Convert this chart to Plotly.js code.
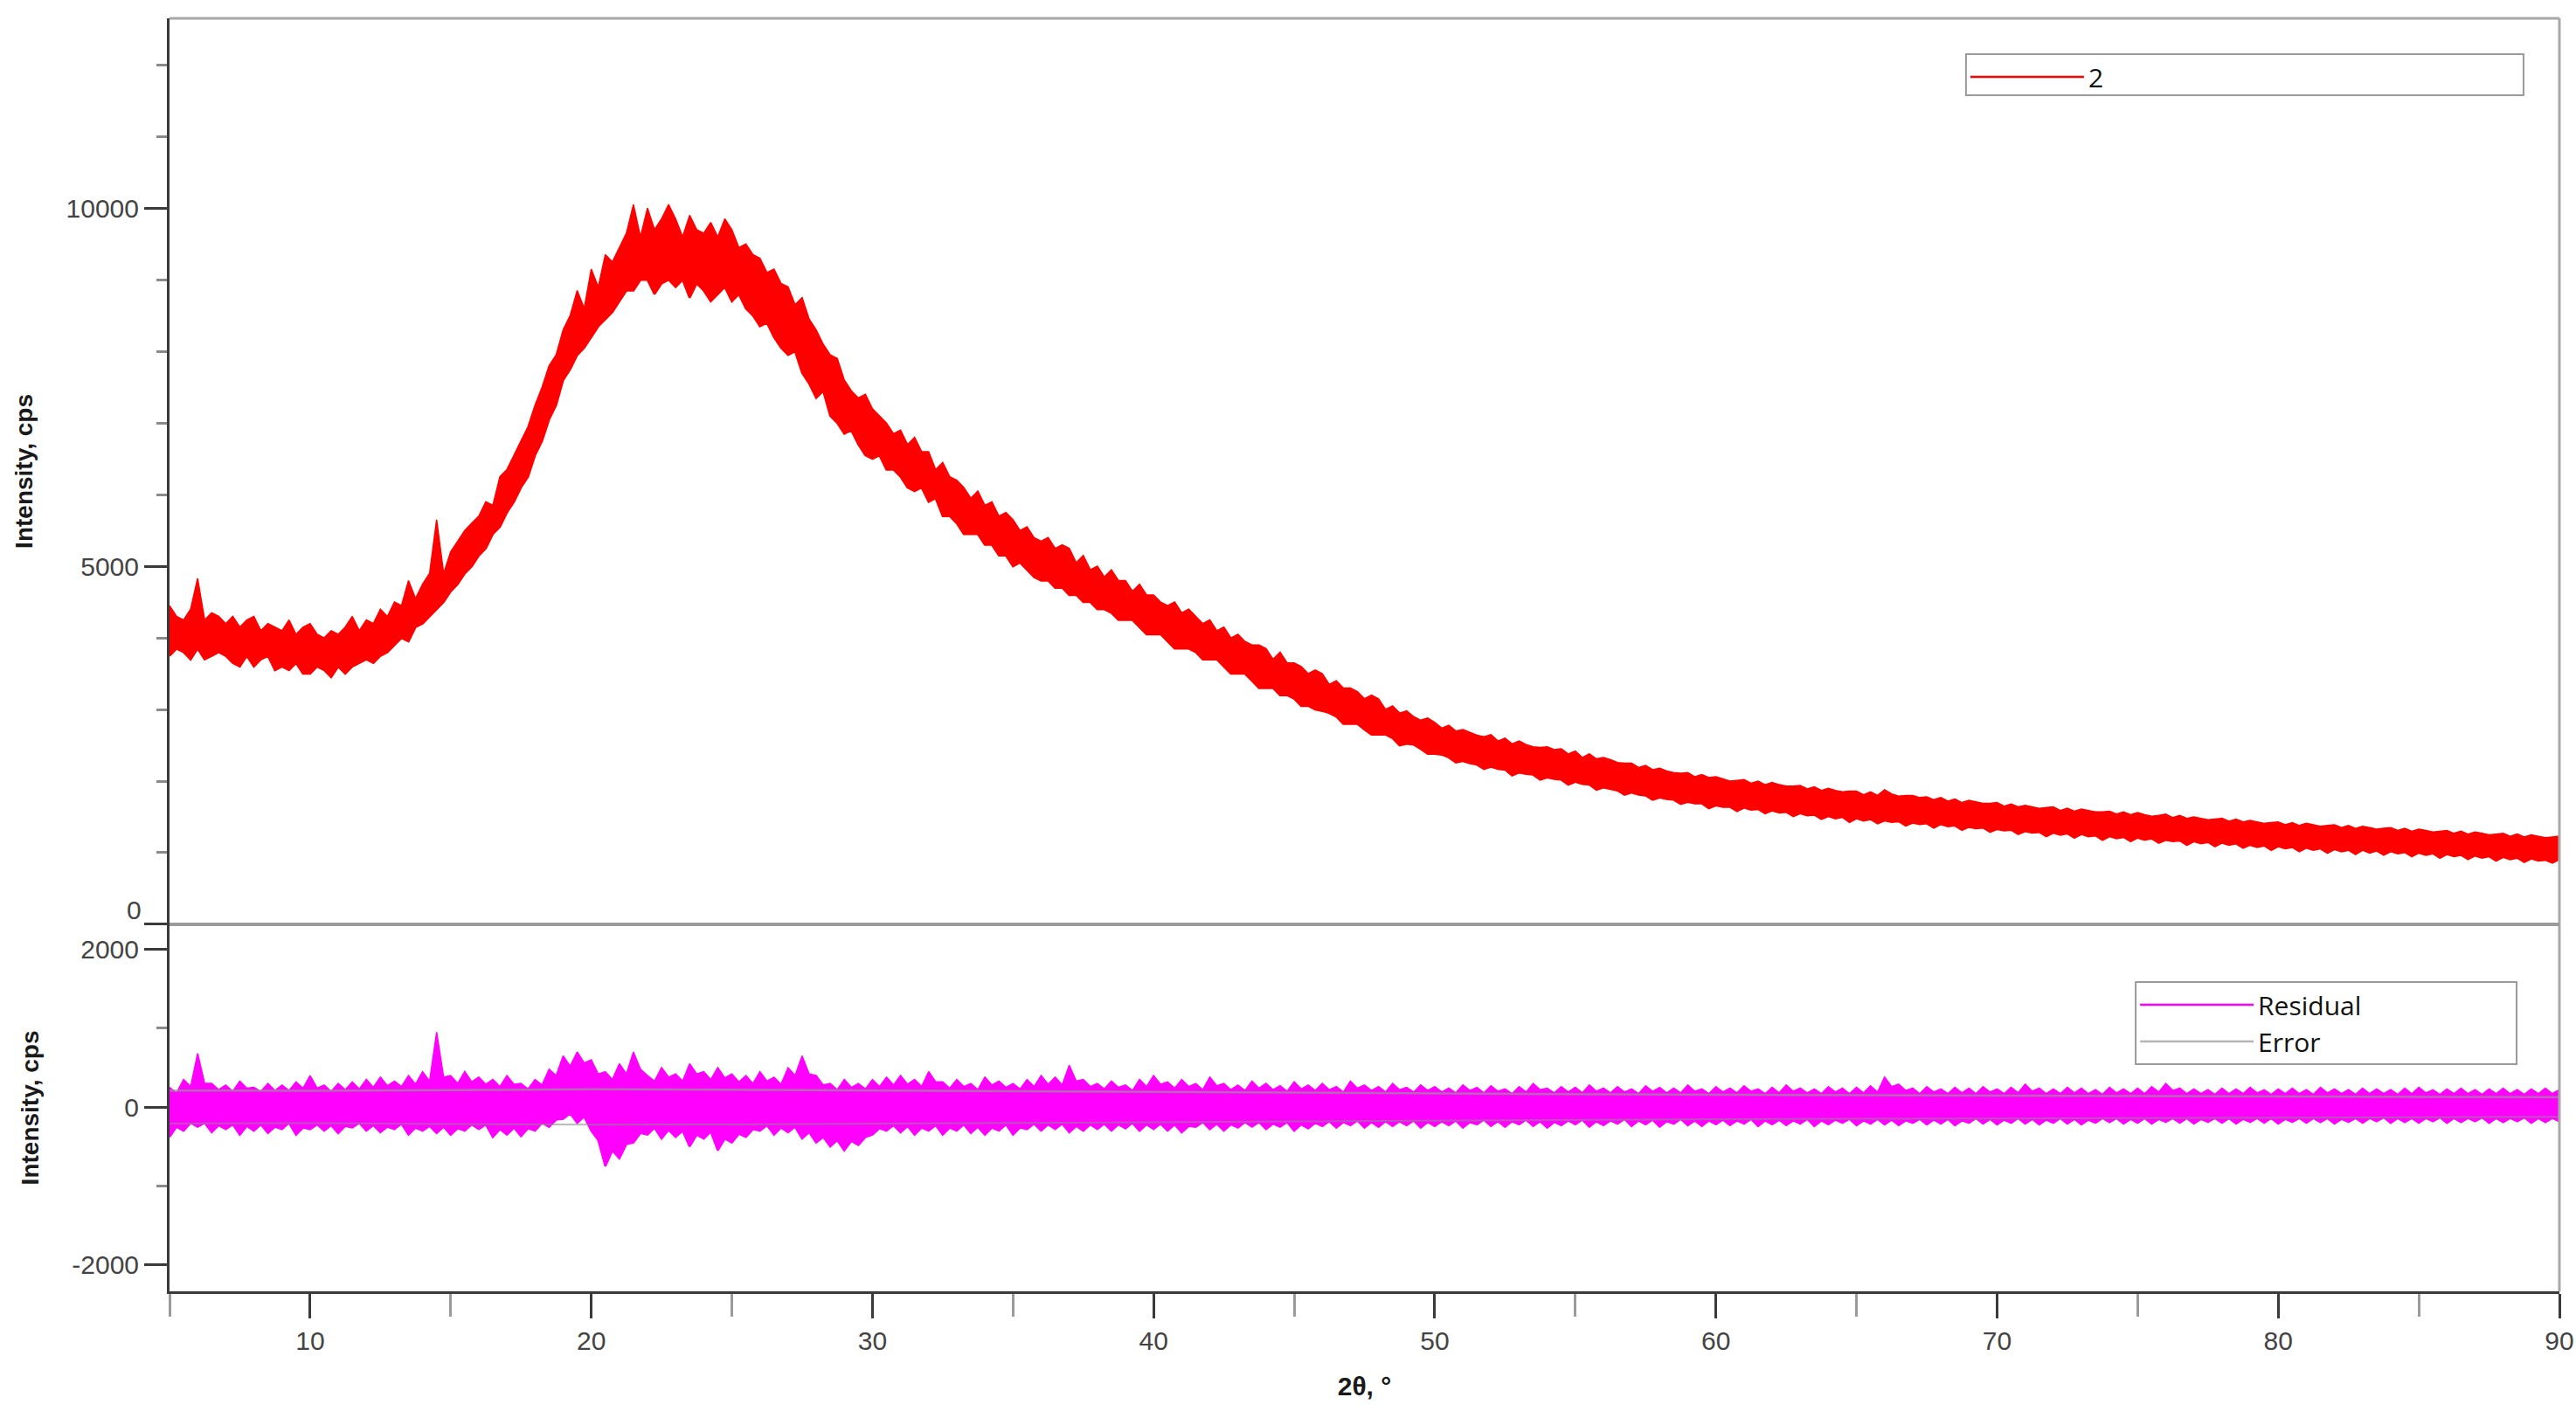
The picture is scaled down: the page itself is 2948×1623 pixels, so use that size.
<!DOCTYPE html>
<html>
<head>
<meta charset="utf-8">
<script src="https://cdn.plot.ly/plotly-3.0.1.min.js"></script>
<style>html,body{margin:0;padding:0;background:#fff;}#chart{width:2948px;height:1623px;}</style>
</head>
<body>
<div id="chart"></div>
<script>
// 2θ sampling positions (degrees), 0.25° apart
const theta = [
  5,5.25,5.5,5.75,6,6.25,6.5,6.75,
  7,7.25,7.5,7.75,8,8.25,8.5,8.75,
  9,9.25,9.5,9.75,10,10.25,10.5,10.75,
  11,11.25,11.5,11.75,12,12.25,12.5,12.75,
  13,13.25,13.5,13.75,14,14.25,14.5,14.75,
  15,15.25,15.5,15.75,16,16.25,16.5,16.75,
  17,17.25,17.5,17.75,18,18.25,18.5,18.75,
  19,19.25,19.5,19.75,20,20.25,20.5,20.75,
  21,21.25,21.5,21.75,22,22.25,22.5,22.75,
  23,23.25,23.5,23.75,24,24.25,24.5,24.75,
  25,25.25,25.5,25.75,26,26.25,26.5,26.75,
  27,27.25,27.5,27.75,28,28.25,28.5,28.75,
  29,29.25,29.5,29.75,30,30.25,30.5,30.75,
  31,31.25,31.5,31.75,32,32.25,32.5,32.75,
  33,33.25,33.5,33.75,34,34.25,34.5,34.75,
  35,35.25,35.5,35.75,36,36.25,36.5,36.75,
  37,37.25,37.5,37.75,38,38.25,38.5,38.75,
  39,39.25,39.5,39.75,40,40.25,40.5,40.75,
  41,41.25,41.5,41.75,42,42.25,42.5,42.75,
  43,43.25,43.5,43.75,44,44.25,44.5,44.75,
  45,45.25,45.5,45.75,46,46.25,46.5,46.75,
  47,47.25,47.5,47.75,48,48.25,48.5,48.75,
  49,49.25,49.5,49.75,50,50.25,50.5,50.75,
  51,51.25,51.5,51.75,52,52.25,52.5,52.75,
  53,53.25,53.5,53.75,54,54.25,54.5,54.75,
  55,55.25,55.5,55.75,56,56.25,56.5,56.75,
  57,57.25,57.5,57.75,58,58.25,58.5,58.75,
  59,59.25,59.5,59.75,60,60.25,60.5,60.75,
  61,61.25,61.5,61.75,62,62.25,62.5,62.75,
  63,63.25,63.5,63.75,64,64.25,64.5,64.75,
  65,65.25,65.5,65.75,66,66.25,66.5,66.75,
  67,67.25,67.5,67.75,68,68.25,68.5,68.75,
  69,69.25,69.5,69.75,70,70.25,70.5,70.75,
  71,71.25,71.5,71.75,72,72.25,72.5,72.75,
  73,73.25,73.5,73.75,74,74.25,74.5,74.75,
  75,75.25,75.5,75.75,76,76.25,76.5,76.75,
  77,77.25,77.5,77.75,78,78.25,78.5,78.75,
  79,79.25,79.5,79.75,80,80.25,80.5,80.75,
  81,81.25,81.5,81.75,82,82.25,82.5,82.75,
  83,83.25,83.5,83.75,84,84.25,84.5,84.75,
  85,85.25,85.5,85.75,86,86.25,86.5,86.75,
  87,87.25,87.5,87.75,88,88.25,88.5,88.75,
  89,89.25,89.5,89.75,90
];

// Pattern "2": upper and lower edges of the noisy trace (cps)
const patternUpper = [
  4450,4300,4250,4400,4830,4250,4350,4300,
  4200,4300,4150,4250,4300,4100,4200,4150,
  4100,4250,4050,4150,4200,4050,4000,4100,
  4050,4150,4300,4100,4250,4200,4400,4300,
  4500,4450,4800,4550,4750,4900,5650,4900,
  5200,5350,5500,5600,5700,5900,5850,6250,
  6350,6550,6750,6950,7250,7500,7800,7950,
  8300,8500,8850,8600,9150,8900,9350,9250,
  9450,9650,10050,9600,10000,9700,9850,10050,
  9850,9600,9900,9700,9650,9800,9600,9850,
  9700,9450,9500,9350,9300,9100,9150,8950,
  8900,8650,8750,8450,8300,8100,7950,7900,
  7600,7450,7350,7400,7200,7100,7000,6850,
  6900,6700,6800,6600,6600,6350,6450,6250,
  6200,6100,5950,6050,5850,5900,5700,5750,
  5650,5500,5550,5400,5350,5400,5250,5300,
  5250,5050,5150,4950,5000,4850,4950,4800,
  4800,4650,4750,4600,4600,4500,4450,4500,
  4350,4400,4300,4200,4250,4100,4150,4000,
  4050,3950,3900,3900,3850,3700,3800,3650,
  3650,3600,3500,3550,3500,3350,3400,3300,
  3300,3250,3150,3200,3150,3000,3050,2950,
  2980,2900,2850,2880,2820,2740,2780,2700,
  2720,2680,2640,2620,2650,2560,2600,2520,
  2560,2510,2480,2470,2480,2440,2450,2380,
  2420,2330,2380,2310,2330,2300,2260,2250,
  2250,2190,2220,2160,2180,2140,2120,2110,
  2120,2060,2090,2050,2060,2030,2000,2010,
  2020,1970,2000,1950,1980,1950,1930,1930,
  1940,1890,1920,1870,1900,1870,1850,1860,
  1860,1810,1850,1800,1880,1820,1790,1800,
  1800,1770,1780,1740,1770,1720,1750,1700,
  1730,1710,1690,1690,1700,1650,1680,1640,
  1660,1640,1620,1630,1640,1590,1620,1580,
  1610,1590,1570,1570,1580,1540,1570,1530,
  1560,1530,1510,1520,1540,1490,1520,1480,
  1500,1480,1460,1470,1480,1440,1470,1430,
  1450,1430,1410,1420,1430,1390,1420,1380,
  1410,1390,1370,1380,1390,1350,1380,1340,
  1370,1350,1330,1340,1350,1310,1340,1300,
  1330,1310,1290,1300,1310,1270,1300,1260,
  1290,1270,1250,1260,1270,1230,1260,1220,
  1250,1230,1210,1220,1230
];
const patternLower = [
  3750,3850,3800,3700,3850,3700,3750,3800,
  3750,3650,3600,3750,3600,3700,3750,3550,
  3600,3550,3650,3500,3500,3600,3550,3450,
  3600,3500,3600,3650,3700,3650,3750,3800,
  3900,4000,3950,4150,4200,4300,4400,4500,
  4650,4750,4900,5000,5150,5250,5450,5550,
  5750,5900,6100,6250,6550,6750,7050,7250,
  7600,7750,7950,8050,8200,8350,8450,8550,
  8700,8850,8850,9000,9000,8800,8950,9000,
  8900,9000,8750,8950,8850,8700,8800,8900,
  8700,8800,8600,8500,8350,8400,8200,8050,
  7950,8000,7700,7550,7350,7450,7100,7000,
  6850,6900,6700,6550,6500,6550,6350,6350,
  6250,6100,6050,6100,5900,5950,5700,5700,
  5600,5450,5450,5450,5300,5300,5150,5150,
  5000,5050,4950,4850,4800,4800,4700,4700,
  4600,4600,4500,4500,4400,4400,4350,4250,
  4250,4250,4150,4050,4050,4050,3950,3850,
  3850,3850,3800,3700,3700,3700,3600,3500,
  3500,3500,3400,3300,3300,3300,3200,3200,
  3150,3050,3050,3000,2980,2950,2900,2800,
  2800,2800,2720,2650,2650,2650,2600,2500,
  2520,2510,2450,2380,2380,2370,2330,2260,
  2280,2250,2230,2170,2200,2170,2160,2080,
  2120,2100,2090,2020,2050,2030,2020,1950,
  1990,1960,1950,1880,1910,1890,1870,1810,
  1840,1810,1800,1740,1770,1750,1740,1680,
  1710,1690,1690,1620,1660,1640,1640,1580,
  1630,1600,1610,1550,1590,1560,1570,1510,
  1550,1520,1530,1470,1510,1480,1500,1430,
  1480,1450,1470,1410,1450,1430,1440,1380,
  1420,1400,1410,1350,1400,1370,1380,1320,
  1360,1340,1350,1290,1330,1310,1320,1260,
  1300,1280,1290,1230,1280,1250,1270,1210,
  1260,1230,1240,1180,1230,1200,1220,1160,
  1210,1180,1200,1140,1180,1160,1170,1110,
  1160,1130,1150,1090,1140,1110,1130,1070,
  1110,1080,1100,1040,1090,1060,1080,1020,
  1070,1040,1060,1000,1050,1020,1040,980,
  1040,1000,1030,970,1020,990,1010,950,
  1000,970,990,930,980,950,970,910,
  960,930,950,890,940,910,930,870,
  920,890,900,860,910
];

// Residual: upper and lower edges of the noisy trace (cps)
const residualUpper = [
  250,180,350,260,680,300,300,220,
  280,200,330,240,250,200,300,210,
  280,210,320,240,400,240,280,200,
  300,220,320,230,350,250,380,270,
  330,260,400,290,450,330,950,380,
  400,300,450,320,380,290,350,260,
  400,290,300,230,350,280,480,400,
  650,520,700,560,600,420,450,350,
  550,420,700,480,400,330,500,380,
  420,330,550,420,450,350,500,370,
  420,320,400,300,450,330,380,290,
  500,400,650,420,400,280,300,220,
  350,250,300,230,350,260,380,280,
  400,290,350,260,450,320,320,240,
  350,260,300,220,380,280,330,250,
  300,230,350,260,400,290,380,280,
  530,330,350,260,300,230,330,250,
  280,210,350,260,400,290,320,240,
  350,260,300,220,380,270,300,220,
  280,210,330,240,300,220,270,200,
  320,230,280,210,300,220,260,190,
  330,240,280,210,260,190,300,220,
  250,190,280,210,260,190,240,180,
  280,210,250,180,270,200,230,170,
  260,190,300,220,240,180,260,190,
  250,180,280,200,240,180,260,190,
  230,170,270,200,250,180,240,180,
  280,200,230,170,260,190,240,180,
  270,200,230,170,250,180,280,200,
  240,180,230,170,260,190,240,170,
  250,180,270,190,380,260,290,210,
  240,170,260,190,230,170,250,180,
  240,170,260,190,230,170,250,180,
  290,200,240,170,230,170,250,180,
  240,170,220,160,250,180,230,170,
  240,170,260,190,300,210,240,170,
  230,170,220,160,240,170,230,170,
  250,180,220,160,230,170,240,170,
  220,160,250,180,230,170,220,160,
  240,170,230,170,220,160,240,170,
  250,180,220,160,230,170,240,170,
  220,160,230,170,240,170,220,160,
  230,170,240,170,220
];
const residualLower = [
  -380,-250,-300,-200,-250,-200,-320,-230,
  -280,-220,-350,-240,-300,-220,-330,-250,
  -280,-200,-350,-260,-280,-220,-300,-230,
  -330,-240,-260,-200,-300,-230,-320,-250,
  -280,-210,-350,-260,-300,-240,-330,-250,
  -350,-270,-300,-220,-280,-220,-380,-280,
  -350,-260,-370,-270,-300,-200,-250,-160,
  -150,-80,-200,-120,-300,-420,-750,-550,
  -650,-470,-450,-330,-350,-260,-400,-290,
  -380,-300,-500,-350,-400,-310,-550,-400,
  -450,-340,-380,-280,-300,-230,-350,-260,
  -320,-250,-400,-320,-450,-380,-500,-420,
  -550,-430,-480,-380,-350,-270,-300,-230,
  -320,-240,-350,-260,-300,-230,-350,-260,
  -300,-220,-330,-250,-350,-260,-300,-220,
  -350,-260,-280,-210,-300,-220,-280,-210,
  -320,-240,-300,-220,-280,-210,-300,-220,
  -270,-200,-300,-220,-280,-210,-300,-220,
  -320,-240,-250,-190,-280,-210,-300,-220,
  -260,-190,-250,-190,-280,-210,-250,-190,
  -300,-220,-270,-200,-240,-180,-260,-190,
  -230,-170,-260,-190,-250,-180,-240,-180,
  -230,-170,-260,-190,-240,-180,-230,-170,
  -260,-190,-220,-160,-240,-180,-250,-180,
  -220,-160,-240,-180,-260,-190,-230,-170,
  -220,-160,-250,-180,-230,-170,-210,-150,
  -240,-170,-220,-160,-250,-180,-210,-150,
  -230,-170,-240,-170,-220,-160,-230,-170,
  -210,-150,-240,-170,-220,-160,-230,-170,
  -210,-150,-240,-170,-220,-160,-200,-150,
  -230,-170,-210,-150,-220,-160,-230,-170,
  -200,-150,-220,-160,-210,-150,-230,-170,
  -200,-140,-210,-150,-220,-160,-200,-140,
  -210,-150,-220,-160,-200,-140,-210,-150,
  -220,-160,-200,-140,-190,-140,-210,-150,
  -200,-140,-210,-150,-190,-140,-200,-140,
  -210,-150,-190,-140,-200,-140,-210,-150,
  -190,-140,-200,-140,-210,-150,-190,-140,
  -200,-140,-190,-140,-210,-150,-190,-140,
  -200,-140,-180,-130,-200,-140,-190,-140,
  -200,-140,-180,-130,-200,-140,-190,-140,
  -180,-130,-200,-140,-190,-140,-180,-130,
  -200,-140,-190,-140,-180
];

// Error curves (cps)
const errorTheta = [5,10,15,20,25,30,35,40,45,50,55,60,65,70,75,80,85,90];
const errorUpper = [210,205,215,225,220,210,200,190,180,170,160,155,150,145,140,135,130,125];
const errorLower = [-210,-205,-215,-225,-220,-210,-200,-190,-180,-170,-160,-155,-150,-145,-140,-135,-130,-125];

// Tick values and labels
const topMajorTicks = [0, 5000, 10000];
const topMajorLabels = ['', '5000', '10000'];
const topMinorTicks = [1000,2000,3000,4000,6000,7000,8000,9000,11000,12000];
const botMajorTicks = [-2000, 0, 2000];
const botMajorLabels = ['-2000', '0', '2000'];
const botMinorTicks = [-1000, 1000];

const RED = '#ff0000';
const MAGENTA = '#ff00ff';
const TICKFONT = {family: 'Liberation Sans, Arial, sans-serif', size: 30, color: '#444444'};
const TITLEFONT = {family: 'Liberation Sans, Arial, sans-serif', size: 28, color: '#1a1a1a'};
const LEGFONT = {family: 'Open Sans, Noto Sans, sans-serif', size: 30, color: '#111111'};
const SPLIT = 0.2883;

const traces = [
  {x: theta, y: patternLower, type: 'scatter', mode: 'lines', xaxis: 'x', yaxis: 'y',
   line: {color: RED, width: 2.5}, name: '2', legend: 'legend', showlegend: true, hoverinfo: 'skip'},
  {x: theta, y: patternUpper, type: 'scatter', mode: 'lines', xaxis: 'x', yaxis: 'y',
   fill: 'tonexty', fillcolor: RED, line: {color: RED, width: 1.5}, showlegend: false, hoverinfo: 'skip'},
  {x: theta, y: residualLower, type: 'scatter', mode: 'lines', xaxis: 'x', yaxis: 'y2',
   line: {color: MAGENTA, width: 2.5}, name: 'Residual', legend: 'legend2', showlegend: true, hoverinfo: 'skip'},
  {x: theta, y: residualUpper, type: 'scatter', mode: 'lines', xaxis: 'x', yaxis: 'y2',
   fill: 'tonexty', fillcolor: MAGENTA, line: {color: MAGENTA, width: 1.5}, showlegend: false, hoverinfo: 'skip'},
  {x: errorTheta, y: errorUpper, type: 'scatter', mode: 'lines', xaxis: 'x', yaxis: 'y2',
   line: {color: 'rgba(150,150,150,0.7)', width: 2.5}, name: 'Error', legend: 'legend2', showlegend: true, hoverinfo: 'skip'},
  {x: errorTheta, y: errorLower, type: 'scatter', mode: 'lines', xaxis: 'x', yaxis: 'y2',
   line: {color: 'rgba(140,140,140,0.6)', width: 2}, showlegend: false, hoverinfo: 'skip'}
];

const layout = {
  width: 2948, height: 1623,
  margin: {l: 194, r: 19, t: 21, b: 145, pad: 0},
  paper_bgcolor: '#ffffff', plot_bgcolor: '#ffffff',
  showlegend: true,
  xaxis: {
    range: [5, 90], anchor: 'y2', showgrid: false, zeroline: false,
    showline: true, linecolor: '#3a3a3a', linewidth: 3,
    tickmode: 'linear', tick0: 0, dtick: 10,
    ticks: 'outside', ticklen: 28, tickwidth: 3, tickcolor: '#3a3a3a',
    tickfont: TICKFONT,
    minor: {tickmode: 'linear', tick0: 0, dtick: 5, ticks: 'outside', ticklen: 26, tickwidth: 3, tickcolor: '#9a9a9a'},
    title: {text: '<b>2θ, °</b>', font: {family: TITLEFONT.family, size: 30, color: '#1a1a1a'}, standoff: 26}
  },
  yaxis: {
    domain: [SPLIT, 1], range: [0, 12650], anchor: 'x', showgrid: false, zeroline: false,
    showline: true, linecolor: '#3a3a3a', linewidth: 3,
    tickmode: 'array', tickvals: topMajorTicks, ticktext: topMajorLabels,
    ticks: 'outside', ticklen: 26, tickwidth: 3, tickcolor: '#3a3a3a',
    tickfont: TICKFONT,
    minor: {tickmode: 'array', tickvals: topMinorTicks, ticks: 'outside', ticklen: 12, tickwidth: 3, tickcolor: '#8a8a8a'},
    title: {text: '<b>Intensity, cps</b>', font: TITLEFONT, standoff: 30}
  },
  yaxis2: {
    domain: [0, SPLIT], range: [-2340, 2320], anchor: 'x', showgrid: false, zeroline: false,
    showline: true, linecolor: '#3a3a3a', linewidth: 3,
    tickmode: 'array', tickvals: botMajorTicks, ticktext: botMajorLabels,
    ticks: 'outside', ticklen: 26, tickwidth: 3, tickcolor: '#3a3a3a',
    tickfont: TICKFONT,
    minor: {tickmode: 'array', tickvals: botMinorTicks, ticks: 'outside', ticklen: 12, tickwidth: 3, tickcolor: '#8a8a8a'},
    title: {text: '<b>Intensity, cps</b>', font: TITLEFONT, standoff: 30}
  },
  legend: {
    x: 0.7517, y: 0.9719, xanchor: 'left', yanchor: 'top', orientation: 'v',
    bgcolor: 'rgba(0,0,0,0)', borderwidth: 0,
    font: LEGFONT, itemwidth: 130, tracegroupgap: 0
  },
  legend2: {
    x: 0.8227, y: 0.2430, xanchor: 'left', yanchor: 'top', orientation: 'v',
    bgcolor: 'rgba(0,0,0,0)', borderwidth: 0,
    font: LEGFONT, itemwidth: 130, tracegroupgap: 0
  },
  shapes: [
    {type: 'line', xref: 'paper', yref: 'paper', x0: 0, x1: 1, y0: 1, y1: 1, line: {color: '#a8a8a8', width: 3}},
    {type: 'line', xref: 'paper', yref: 'paper', x0: 1, x1: 1, y0: 0, y1: 1, line: {color: '#a8a8a8', width: 3}},
    {type: 'line', xref: 'paper', yref: 'paper', x0: 0, x1: 1, y0: SPLIT, y1: SPLIT, line: {color: '#9a9a9a', width: 4}},
    // legend frames
    {type: 'rect', xref: 'paper', yref: 'paper', x0: 0.7517, x1: 0.985, y0: 0.9396, y1: 0.9719,
     fillcolor: '#ffffff', line: {color: '#9a9a9a', width: 2}, layer: 'above'},
    {type: 'rect', xref: 'paper', yref: 'paper', x0: 0.8227, x1: 0.9821, y0: 0.1785, y1: 0.2430,
     fillcolor: '#ffffff', line: {color: '#9a9a9a', width: 2}, layer: 'above'}
  ],
  annotations: [
    {text: '0', xref: 'paper', yref: 'y', x: 0, y: 0, xanchor: 'right', yanchor: 'bottom',
     xshift: -30, yshift: -2, showarrow: false, font: TICKFONT}
  ]
};

Plotly.newPlot('chart', traces, layout, {displayModeBar: false, staticPlot: true});
</script>
</body>
</html>
